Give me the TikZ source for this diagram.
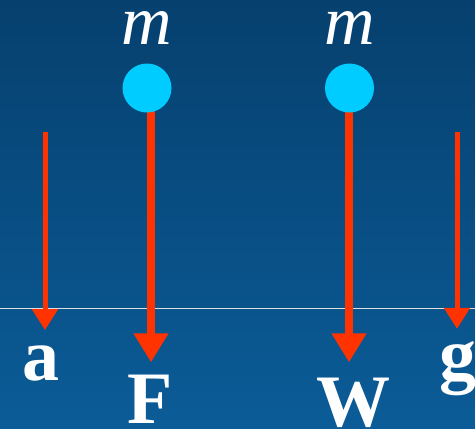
\documentclass[tikz,border=0pt]{standalone}
\usepackage{fontspec}
\setmainfont{Liberation Serif}
\usetikzlibrary{arrows.meta}
\definecolor{bgtop}{RGB}{6,64,110}
\definecolor{bgbot}{RGB}{11,92,152}
\definecolor{ball}{RGB}{0,204,255}
\definecolor{forcered}{RGB}{255,51,0}
\tikzset{mass/.style={circle, fill=ball, minimum size=49pt, inner sep=0pt},
  mlabel/.style={font=\fontsize{70}{70}\selectfont\itshape, text=white, anchor=base, inner sep=0pt},
  vlabel/.style={font=\fontsize{74}{74}\selectfont\bfseries, text=white, anchor=base, inner sep=0pt},
  thinforce/.style={draw=forcered, line width=5pt, -{Triangle[width=25pt,length=21pt]}},
  thickforce/.style={draw=forcered, line width=7.5pt, -{Triangle[width=33pt,length=29pt]}}}

\begin{document}
\begin{tikzpicture}[x=1pt,y=-1pt]
            \shade[top color=bgtop, bottom color=bgbot] (0,0) rectangle (475,429);
            \useasboundingbox (0,0) rectangle (475,429);
            \draw[white!75!gray, line width=0.8pt] (0,308) -- (475,308);

            \coordinate (a0) at (45,132);
            \coordinate (F0) at (151,90);
            \coordinate (W0) at (349,90);
            \coordinate (g0) at (457,132);

            \node[vlabel] (a) at (41,380) {a};
            \node[vlabel] (F) at (150,423) {F};
            \node[vlabel] (W) at (353,426) {W};
            \node[vlabel] (g) at (458,379) {g};

            \draw[thinforce, shorten >=15pt] (a0) -- (a0 |- a.north);
            \draw[thickforce, shorten >=12pt] (F0) -- (F0 |- F.north);
            \draw[thickforce, shorten >=15pt] (W0) -- (W0 |- W.north);
            \draw[thinforce, shorten >=12pt] (g0) -- (g0 |- g.north);

            \node[mass] (m1) at (147,88) {};
            \node[mass] (m2) at (349.5,88) {};
            \node[mlabel] (m1t) at (147,44) {m};
            \node[mlabel] (m2t) at (350,44) {m};
        \end{tikzpicture}
\end{document}
